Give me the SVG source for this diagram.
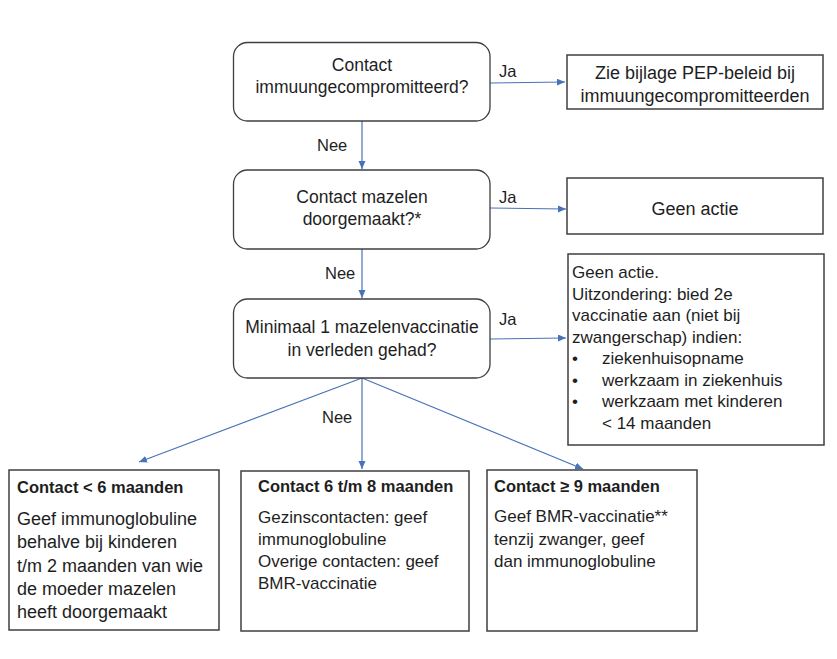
<svg xmlns="http://www.w3.org/2000/svg" width="837" height="659" viewBox="0 0 837 659">
<style>
.bg{fill:#ffffff}
.rbox{fill:#ffffff;stroke:#3f3f3f;stroke-width:1.3}
.box{fill:#ffffff;stroke:#3f3f3f;stroke-width:1.5}
text{font-family:"Liberation Sans",Arial,sans-serif;fill:#1e1e1e}
.q{font-size:17.5px;text-anchor:middle}
.r{font-size:18px;text-anchor:middle}
.lbl{font-size:16.5px}
.t{font-size:17px}
.ta{font-size:18px}
.h{font-size:16.5px;font-weight:bold}
.c{fill:none;stroke:#4a72b8;stroke-width:1.2}
</style>
<defs>
<marker id="ah" markerUnits="userSpaceOnUse" markerWidth="9" markerHeight="8" refX="8" refY="3.5" orient="auto">
<path d="M0,0 L8,3.5 L0,7 z" fill="#4a72b8"/>
</marker>
</defs>
<rect class="bg" x="0" y="0" width="837" height="659"/>

<g id="connectors">
<line class="c" x1="490" y1="83" x2="565" y2="82" marker-end="url(#ah)"/>
<line class="c" x1="362" y1="121" x2="362" y2="169" marker-end="url(#ah)"/>
<line class="c" x1="490" y1="208" x2="566" y2="209" marker-end="url(#ah)"/>
<line class="c" x1="362" y1="249" x2="362" y2="298" marker-end="url(#ah)"/>
<line class="c" x1="490" y1="339" x2="566" y2="338" marker-end="url(#ah)"/>
<line class="c" x1="362" y1="378" x2="139" y2="462" marker-end="url(#ah)"/>
<line class="c" x1="362" y1="378" x2="362" y2="469" marker-end="url(#ah)"/>
<line class="c" x1="362" y1="378" x2="583" y2="469" marker-end="url(#ah)"/>
<text class="lbl" x="499" y="77">Ja</text>
<text class="lbl" x="317" y="151">Nee</text>
<text class="lbl" x="499" y="203">Ja</text>
<text class="lbl" x="325" y="279">Nee</text>
<text class="lbl" x="499" y="325">Ja</text>
<text class="lbl" x="322" y="423">Nee</text>
</g>

<g id="q1">
<rect class="rbox" x="233.5" y="42.5" width="256.5" height="78.5" rx="14"/>
<text class="q" x="362" y="71">Contact</text>
<text class="q" x="362" y="93">immuungecompromitteerd?</text>
</g>

<g id="r1">
<rect class="box" x="567" y="55" width="256" height="54"/>
<text class="r" x="695" y="79">Zie bijlage PEP-beleid bij</text>
<text class="r" x="695" y="102">immuungecompromitteerden</text>
</g>

<g id="q2">
<rect class="rbox" x="233.5" y="170" width="256.5" height="79" rx="14"/>
<text class="q" x="362" y="203">Contact mazelen</text>
<text class="q" x="362" y="225">doorgemaakt?*</text>
</g>

<g id="r2">
<rect class="box" x="567" y="178" width="256" height="56"/>
<text class="r" x="695" y="215">Geen actie</text>
</g>

<g id="q3">
<rect class="rbox" x="233.5" y="299" width="256.5" height="79" rx="14"/>
<text class="q" x="362" y="333">Minimaal 1 mazelenvaccinatie</text>
<text class="q" x="362" y="356">in verleden gehad?</text>
</g>

<g id="r3">
<rect class="box" x="568" y="254" width="256" height="191"/>
<text class="t" x="572" y="278">Geen actie.</text>
<text class="t" x="572" y="299.5">Uitzondering: bied 2e</text>
<text class="t" x="572" y="321">vaccinatie aan (niet bij</text>
<text class="t" x="572" y="342.5">zwangerschap) indien:</text>
<text class="t" x="572" y="364">•</text>
<text class="t" x="602" y="364">ziekenhuisopname</text>
<text class="t" x="572" y="385.5">•</text>
<text class="t" x="602" y="385.5">werkzaam in ziekenhuis</text>
<text class="t" x="572" y="407">•</text>
<text class="t" x="602" y="407">werkzaam met kinderen</text>
<text class="t" x="602" y="428.5">&lt; 14 maanden</text>
</g>

<g id="bA">
<rect class="box" x="9" y="470" width="210" height="160"/>
<text class="h" x="17" y="493">Contact &lt; 6 maanden</text>
<text class="ta" x="17" y="525">Geef immunoglobuline</text>
<text class="ta" x="17" y="548">behalve bij kinderen</text>
<text class="ta" x="17" y="572">t/m 2 maanden van wie</text>
<text class="ta" x="17" y="595">de moeder mazelen</text>
<text class="ta" x="17" y="618">heeft doorgemaakt</text>
</g>

<g id="bB">
<rect class="box" x="241" y="471" width="228" height="160"/>
<text class="h" x="258" y="492">Contact 6 t/m 8 maanden</text>
<text class="t" x="258" y="523">Gezinscontacten: geef</text>
<text class="t" x="258" y="545">immunoglobuline</text>
<text class="t" x="258" y="567">Overige contacten: geef</text>
<text class="t" x="258" y="589">BMR-vaccinatie</text>
</g>

<g id="bC">
<rect class="box" x="487" y="470" width="210" height="161"/>
<text class="h" x="494" y="492">Contact ≥ 9 maanden</text>
<text class="t" x="494" y="522">Geef BMR-vaccinatie**</text>
<text class="t" x="494" y="545">tenzij zwanger, geef</text>
<text class="t" x="494" y="567">dan immunoglobuline</text>
</g>
</svg>
